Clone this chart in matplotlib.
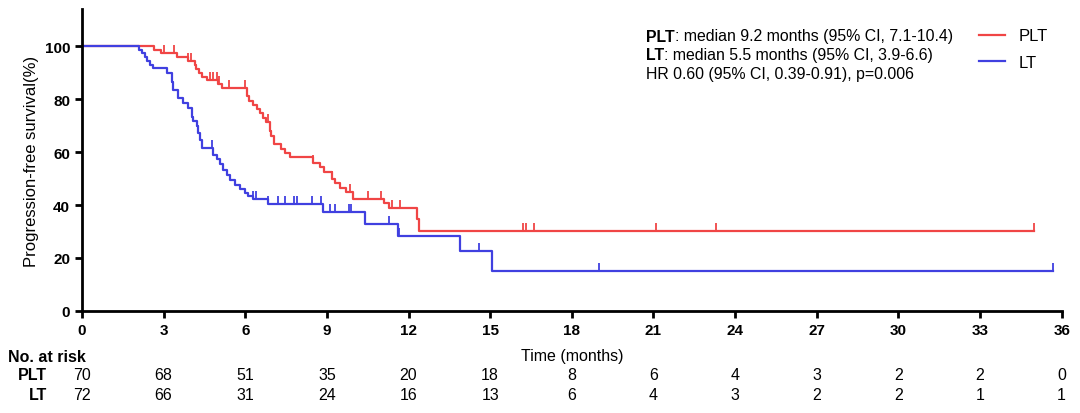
import numpy as np
import matplotlib
matplotlib.use("Agg")
import matplotlib.pyplot as plt

plt.rcParams['font.family'] = ['Liberation Sans', 'DejaVu Sans']

# PLT: times of drops (months) and survival after the drop (%)
plt_times = [2.65, 2.9, 3.5, 3.9, 4.15, 4.2, 4.3, 4.4, 4.6, 5.0, 5.15,
             6.05, 6.15, 6.3, 6.45, 6.55, 6.65, 6.75, 6.9, 6.95, 7.05,
             7.3, 7.45, 7.65, 8.5, 8.75, 8.9, 9.2, 9.3, 9.5, 9.7, 9.95,
             11.1, 11.3, 12.3, 12.4]
plt_surv = [98.6, 97.2, 95.8, 94.4, 93.0, 91.5, 90.0, 88.5, 87.1, 85.6, 84.1,
            81.0, 79.4, 77.8, 76.2, 74.6, 73.0, 71.3, 68.0, 66.0, 63.0,
            61.3, 59.7, 58.0, 56.0, 54.3, 52.5, 50.0, 48.3, 46.6, 44.8, 42.1,
            40.9, 39.0, 34.6, 30.3]
plt_censor = [3.0, 3.4, 3.9, 4.0, 4.7, 4.8, 4.95, 5.05, 5.4, 6.0, 6.85, 8.5,
              9.2, 9.85, 10.5, 11.0, 11.4, 11.7, 16.2, 16.3, 16.6, 21.1, 23.3, 35.0]
plt_end = 35.0

# LT
lt_times = [2.1, 2.2, 2.3, 2.4, 2.5, 2.6, 3.11, 3.3, 3.36, 3.54, 3.72, 3.9,
            4.03, 4.09, 4.22, 4.28, 4.34, 4.4, 4.83, 4.95, 5.07, 5.2, 5.32,
            5.44, 5.63, 5.8, 6.0, 6.1, 6.3, 6.85, 8.87, 10.4, 11.6, 13.9, 15.05]
lt_surv = [98.6, 97.2, 95.8, 94.4, 93.0, 91.7, 89.7, 86.6, 83.5, 80.3, 78.4, 76.6,
           73.4, 71.6, 69.7, 67.2, 64.7, 61.5, 59.0, 57.4, 55.3, 53.4, 51.5,
           49.6, 47.7, 45.9, 44.6, 43.4, 42.1, 40.2, 37.2, 32.7, 28.4, 22.6, 15.0]
lt_censor = [4.77, 6.3, 6.4, 6.85, 7.2, 7.45, 7.8, 7.9, 8.45, 8.8, 9.1, 9.3,
             9.8, 9.9, 11.3, 11.65, 14.6, 19.0, 35.7]
lt_end = 35.7

ticks = list(range(0, 37, 3))
risk_plt = [70, 68, 51, 35, 20, 18, 8, 6, 4, 3, 2, 2, 0]
risk_lt = [72, 66, 31, 24, 16, 13, 6, 4, 3, 2, 2, 1, 1]

red = '#F04545'
blue = '#4040E0'


def surv_at(times, surv, t):
    idx = np.searchsorted(times, t, side='right')
    return 100.0 if idx == 0 else surv[idx - 1]


fig = plt.figure(figsize=(10.8, 4.14), dpi=100)
ax = fig.add_axes([0.0759, 0.2464, 0.9071, 0.7296])

for times, surv, cens, end, col in [(plt_times, plt_surv, plt_censor, plt_end, red),
                                     (lt_times, lt_surv, lt_censor, lt_end, blue)]:
    xs = [0] + times + [end]
    ys = [100] + surv + [surv[-1]]
    ax.step(xs, ys, where='post', color=col, lw=1.6)
    cy = [surv_at(times, surv, c) for c in cens]
    ax.plot(cens, cy, ls='none', marker=2, ms=6, mew=1.3, color=col)

ax.set_xlim(0, 36)
ax.set_ylim(0, 114)
ax.set_xticks(ticks)
ax.set_yticks(range(0, 101, 20))
for s in ['top', 'right']:
    ax.spines[s].set_visible(False)
for s in ['left', 'bottom']:
    ax.spines[s].set_linewidth(2)
ax.tick_params(width=2, length=5, labelsize=11)
for lab in ax.get_xticklabels() + ax.get_yticklabels():
    lab.set_fontweight('bold')
ax.set_ylabel('Progression-free survival(%)', fontsize=12)

# legend
ax.plot([], [], color=red, lw=1.6, label='PLT')
ax.plot([], [], color=blue, lw=1.6, label='LT')
h, l = ax.get_legend_handles_labels()
ax.legend(h[-2:], l[-2:], loc='upper left', bbox_to_anchor=(0.9, 0.985),
          frameon=False, fontsize=12, handlelength=1.6, labelspacing=0.7)

# annotation text with bold labels
fig.canvas.draw()
rend = fig.canvas.get_renderer()
lines = [('PLT', ': median 9.2 months (95% CI, 7.1-10.4)'),
         ('LT', ': median 5.5 months (95% CI, 3.9-6.6)'),
         ('', 'HR 0.60 (95% CI, 0.39-0.91), p=0.006')]
x0 = 646 / 1080
for i, (b, rest) in enumerate(lines):
    y = 1 - (37 + i * 18.5) / 414
    x = x0
    if b:
        t = fig.text(x, y, b, fontsize=11.4, fontweight='bold', va='center')
        bb = t.get_window_extent(rend)
        x = x + bb.width / fig.bbox.width
    fig.text(x, y, rest, fontsize=11.4, va='center')

# risk table
fig.text(8 / 1080, 1 - 357 / 414, 'No. at risk', fontsize=11.5, fontweight='bold', va='center')
fig.text(572 / 1080, 1 - 357 / 414, 'Time (months)', fontsize=11.5, va='center', ha='center')
for name, vals, ypix in [('PLT', risk_plt, 376), ('LT', risk_lt, 396)]:
    yy = 1 - ypix / 414
    fig.text(47 / 1080, yy, name, fontsize=11.5, fontweight='bold', va='center', ha='right')
    for t, v in zip(ticks, vals):
        xf = ax.transData.transform((t, 0))[0] / fig.bbox.width
        fig.text(xf, yy, str(v), fontsize=11.5, va='center', ha='center')

fig.savefig('out.png', dpi=100)
